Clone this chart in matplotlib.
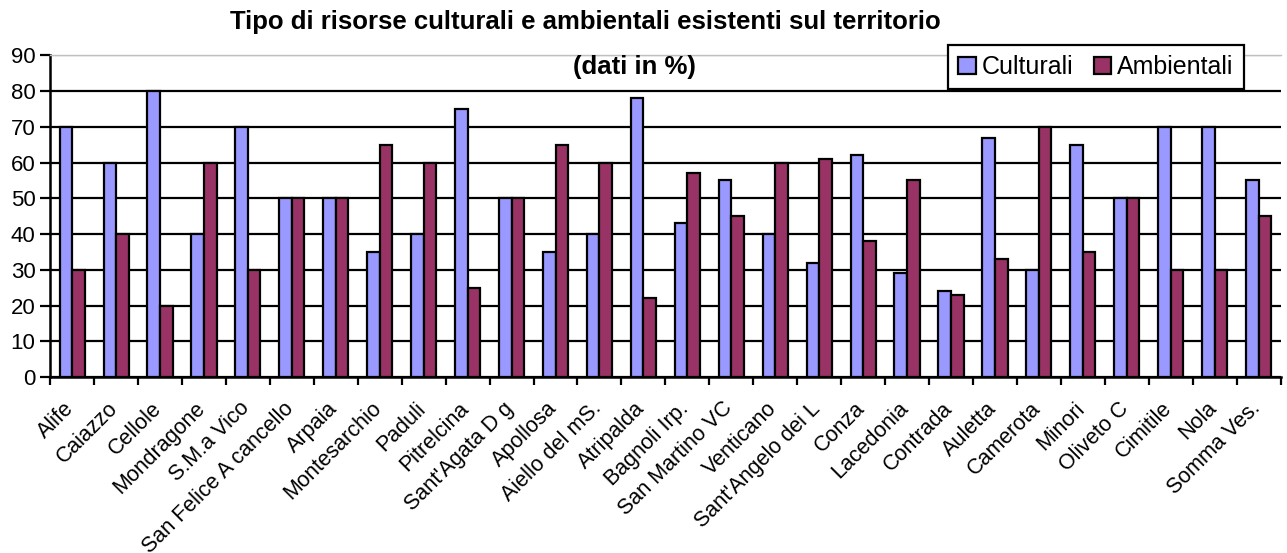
import numpy as np
import matplotlib
matplotlib.use("Agg")
import matplotlib.pyplot as plt
import matplotlib.transforms as mtransforms

plt.rcParams['font.family'] = ['Liberation Sans', 'DejaVu Sans']

# Data
comuni = [
    "Alife", "Caiazzo", "Cellole", "Mondragone", "S.M.a Vico",
    "San Felice A cancello", "Arpaia", "Montesarchio", "Paduli", "Pitrelcina",
    "Sant'Agata D g", "Apollosa", "Aiello del mS.", "Atripalda", "Bagnoli Irp.",
    "San Martino VC", "Venticano", "Sant'Angelo dei L", "Conza", "Lacedonia",
    "Contrada", "Auletta", "Camerota", "Minori", "Oliveto C",
    "Cimitile", "Nola", "Somma Ves.",
]
culturali = [70, 60, 80, 40, 70, 50, 50, 35, 40, 75,
             50, 35, 40, 78, 43, 55, 40, 32, 62, 29,
             24, 67, 30, 65, 50, 70, 70, 55]
ambientali = [30, 40, 20, 60, 30, 50, 50, 65, 60, 25,
              50, 65, 60, 22, 57, 45, 60, 61, 38, 55,
              23, 33, 70, 35, 50, 30, 30, 45]

x = np.arange(len(comuni))
w = 0.286

fig = plt.figure(figsize=(12.87, 5.53), dpi=100)
ax = fig.add_axes([0.039, 0.318, 0.956, 0.582])

ax.bar(x - w / 2, culturali, w, color="#9999FF", edgecolor="black", linewidth=1.6,
       label="Culturali", zorder=3)
ax.bar(x + w / 2, ambientali, w, color="#993366", edgecolor="black", linewidth=1.6,
       label="Ambientali", zorder=3)

ax.set_xlim(-0.5, len(comuni) - 0.5)
ax.set_ylim(0, 90)
ax.set_yticks(range(0, 91, 10))
ax.yaxis.grid(True, color="black", linewidth=1.6, zorder=0)
ax.set_axisbelow(True)

ax.set_xticks(x)
ax.set_xticklabels(comuni, rotation=45, ha="right", rotation_mode="anchor", fontsize=15.5)
ax.set_xticks(np.arange(-0.5, len(comuni)), minor=True)
ax.tick_params(axis="x", which="major", length=0, pad=15)
ax.tick_params(axis="x", which="minor", length=6, width=1.6, direction="out")
ax.tick_params(axis="y", length=7, width=1.6, labelsize=16)

shift = mtransforms.ScaledTranslation(-9 / 100, 0, fig.dpi_scale_trans)
for lab in ax.get_xticklabels():
    lab.set_transform(lab.get_transform() + shift)

for s in ["left", "bottom"]:
    ax.spines[s].set_linewidth(1.8)
ax.spines["right"].set_visible(False)
ax.spines["top"].set_color("#c0c0c0")
ax.spines["top"].set_linewidth(1)
# top gridline drawn in grey
ax.get_ygridlines()[-1].set_color("#c0c0c0")
ax.get_ygridlines()[-1].set_linewidth(1)

fig.text(0.4545, 0.96, "Tipo di risorse culturali e ambientali esistenti sul territorio",
         ha="center", va="center", fontsize=18.5, fontweight="bold")
fig.text(0.493, 0.879, "(dati in %)", ha="center", va="center", fontsize=18.5,
         fontweight="bold")

leg = ax.legend(loc="upper right", bbox_to_anchor=(0.970, 1.031), borderaxespad=0,
                ncol=2, fontsize=18, frameon=True, fancybox=False, edgecolor="black",
                handlelength=0.7, handleheight=0.7, handletextpad=0.25,
                columnspacing=0.8, borderpad=0.4, framealpha=1)
leg.get_frame().set_linewidth(1.6)
leg.set_zorder(5)

fig.savefig("out.png", dpi=100)
